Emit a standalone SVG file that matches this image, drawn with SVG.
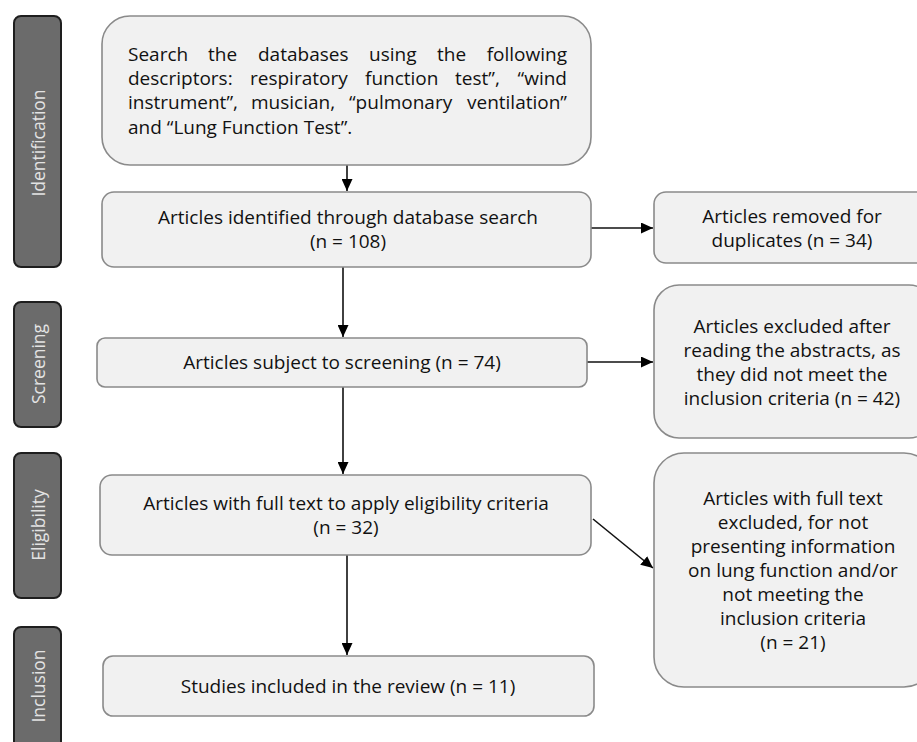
<svg xmlns="http://www.w3.org/2000/svg" width="917" height="742" viewBox="0 0 917 742">
<defs>
<style>
.stage{fill:#6b6b6b;stroke:#1e1e1e;stroke-width:2}
.stxt{fill:#e3e3e3;font-family:"Open Sans","DejaVu Sans",sans-serif;font-size:17.5px;text-anchor:middle}
.box{fill:#f1f1f1;stroke:#8a8a8a;stroke-width:1.6}
.t{fill:#111;font-family:"Open Sans","DejaVu Sans",sans-serif;font-size:19px;text-anchor:middle}
.tl{fill:#111;font-family:"Open Sans","DejaVu Sans",sans-serif;font-size:19px}
.c{stroke:#111;stroke-width:1.6;fill:none;marker-end:url(#ah)}
</style>
<marker id="ah" viewBox="0 0 12 11" refX="12" refY="5.5" markerWidth="12" markerHeight="11" markerUnits="userSpaceOnUse" orient="auto">
<path d="M0,0 L12,5.5 L0,11 z" fill="#000"/>
</marker>
</defs>
<rect width="917" height="742" fill="#fff"/>

<g id="stage-identification">
<rect class="stage" x="14" y="16" width="47" height="251" rx="7"/>
<text class="stxt" transform="translate(45,143) rotate(-90)">Identification</text>
</g>
<g id="stage-screening">
<rect class="stage" x="14" y="302" width="47" height="125" rx="7"/>
<text class="stxt" transform="translate(45,364) rotate(-90)">Screening</text>
</g>
<g id="stage-eligibility">
<rect class="stage" x="14" y="453" width="47" height="145" rx="7"/>
<text class="stxt" transform="translate(45,525) rotate(-90)">Eligibility</text>
</g>
<g id="stage-inclusion">
<rect class="stage" x="14" y="627" width="47" height="140" rx="7"/>
<text class="stxt" transform="translate(45,686) rotate(-90)">Inclusion</text>
</g>

<g id="connectors">
<line class="c" x1="347" y1="165" x2="347" y2="191"/>
<line class="c" x1="591" y1="228" x2="653" y2="228"/>
<line class="c" x1="343" y1="267" x2="343" y2="337"/>
<line class="c" x1="587" y1="362" x2="653" y2="362"/>
<line class="c" x1="343" y1="387" x2="343" y2="474"/>
<line class="c" x1="593" y1="519" x2="653" y2="568"/>
<line class="c" x1="347" y1="555" x2="347" y2="655"/>
</g>

<g id="search">
<rect class="box" x="102" y="16" width="489" height="149" rx="28"/>
<text class="tl" y="61"><tspan x="128">Search</tspan><tspan x="208">the</tspan><tspan x="258">databases</tspan><tspan x="369">using</tspan><tspan x="437">the</tspan><tspan x="567" text-anchor="end">following</tspan></text>
<text class="tl" y="85"><tspan x="128">descriptors:</tspan><tspan x="250">respiratory</tspan><tspan x="365">function</tspan><tspan x="455">test”,</tspan><tspan x="567" text-anchor="end">“wind</tspan></text>
<text class="tl" y="109"><tspan x="128">instrument”,</tspan><tspan x="251">musician,</tspan><tspan x="349">“pulmonary</tspan><tspan x="567" text-anchor="end">ventilation”</tspan></text>
<text class="tl" x="128" y="134">and “Lung Function Test”.</text>
</g>

<g id="identified">
<rect class="box" x="102" y="192" width="489" height="75" rx="12"/>
<text class="t" x="348" y="224">Articles identified through database search</text>
<text class="t" x="348" y="248">(n = 108)</text>
</g>

<g id="duplicates">
<rect class="box" x="654" y="192" width="280" height="71" rx="12"/>
<text class="t" x="792" y="223">Articles removed for</text>
<text class="t" x="792" y="247">duplicates (n = 34)</text>
</g>

<g id="screening">
<rect class="box" x="97" y="338" width="490" height="49" rx="8"/>
<text class="t" x="342" y="369">Articles subject to screening (n = 74)</text>
</g>

<g id="excluded-abstracts">
<rect class="box" x="654" y="285" width="280" height="153" rx="25"/>
<text class="t" x="792" y="333">Articles excluded after</text>
<text class="t" x="792" y="357">reading the abstracts, as</text>
<text class="t" x="792" y="381">they did not meet the</text>
<text class="t" x="792" y="405">inclusion criteria (n = 42)</text>
</g>

<g id="eligibility">
<rect class="box" x="100" y="475" width="491" height="80" rx="12"/>
<text class="t" x="346" y="510">Articles with full text to apply eligibility criteria</text>
<text class="t" x="346" y="534">(n = 32)</text>
</g>

<g id="excluded-fulltext">
<rect class="box" x="654" y="453" width="280" height="234" rx="30"/>
<text class="t" x="793" y="505">Articles with full text</text>
<text class="t" x="793" y="529">excluded, for not</text>
<text class="t" x="793" y="553">presenting information</text>
<text class="t" x="793" y="577">on lung function and/or</text>
<text class="t" x="793" y="601">not meeting the</text>
<text class="t" x="793" y="625">inclusion criteria</text>
<text class="t" x="793" y="649">(n = 21)</text>
</g>

<g id="included">
<rect class="box" x="103" y="656" width="491" height="60" rx="10"/>
<text class="t" x="348" y="693">Studies included in the review (n = 11)</text>
</g>
</svg>
